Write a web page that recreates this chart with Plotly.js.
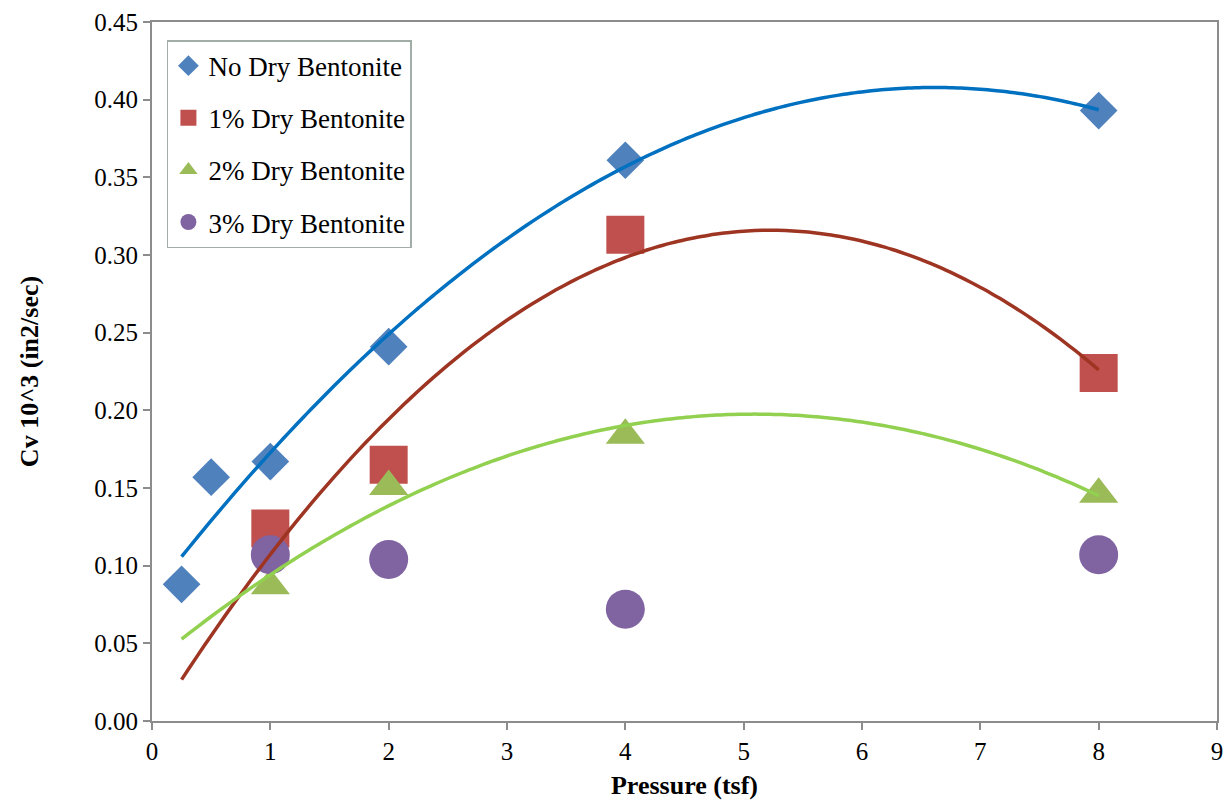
<!DOCTYPE html>
<html>
<head>
<meta charset="utf-8">
<script src="https://cdn.plot.ly/plotly-3.0.1.min.js"></script>
<style>
  html, body { margin: 0; padding: 0; background: #fff; }
  #chart { width: 1229px; height: 803px; }
</style>
</head>
<body>
<div id="chart"></div>
<script>
// Consolidation coefficient vs. applied pressure for four bentonite contents
const pressureNone = [0.25, 0.5, 1, 2, 4, 8];
const cvNone       = [0.088, 0.157, 0.167, 0.241, 0.361, 0.393];

const pressure1 = [1, 2, 4, 8];
const cv1       = [0.124, 0.165, 0.313, 0.224];

const pressure2 = [1, 2, 4, 8];
const cv2       = [0.087, 0.151, 0.184, 0.146];

const pressure3 = [1, 2, 4, 8];
const cv3       = [0.107, 0.104, 0.072, 0.107];

const seriesNames = ['No Dry Bentonite', '1% Dry Bentonite', '2% Dry Bentonite', '3% Dry Bentonite'];

// Span over which the quadratic trendlines are drawn
const trendStart = 0.25;
const trendEnd = 8;

// Least-squares quadratic fit y = a + b x + c x^2
function quadFit(xs, ys) {
  let S = [0, 0, 0, 0, 0], T = [0, 0, 0];
  for (let i = 0; i < xs.length; i++) {
    let p = 1;
    for (let k = 0; k < 5; k++) { S[k] += p; if (k < 3) T[k] += p * ys[i]; p *= xs[i]; }
  }
  const M = [[S[0], S[1], S[2], T[0]], [S[1], S[2], S[3], T[1]], [S[2], S[3], S[4], T[2]]];
  for (let c = 0; c < 3; c++) {
    for (let r = c + 1; r < 3; r++) {
      const f = M[r][c] / M[c][c];
      for (let k = c; k < 4; k++) M[r][k] -= f * M[c][k];
    }
  }
  const sol = [0, 0, 0];
  for (let r = 2; r >= 0; r--) {
    let s = M[r][3];
    for (let k = r + 1; k < 3; k++) s -= M[r][k] * sol[k];
    sol[r] = s / M[r][r];
  }
  return sol;
}

function trendTrace(xs, ys, color) {
  const [a, b, c] = quadFit(xs, ys);
  const tx = [], ty = [];
  const n = 120;
  for (let i = 0; i <= n; i++) {
    const x = trendStart + (trendEnd - trendStart) * i / n;
    tx.push(x); ty.push(a + b * x + c * x * x);
  }
  return { x: tx, y: ty, type: 'scatter', mode: 'lines', showlegend: false, hoverinfo: 'skip',
           line: { color: color, width: 3.5, shape: 'spline' } };
}

function markerTrace(xs, ys, name, symbol, size, color, group) {
  return { x: xs, y: ys, name: name, type: 'scatter', mode: 'markers', legendgroup: group,
           marker: { symbol: symbol, size: size, color: color, line: { width: 0 } } };
}

const data = [
  markerTrace(pressureNone, cvNone, seriesNames[0], 'diamond', 29, '#4F81BD', 'g0'),
  markerTrace(pressure1, cv1, seriesNames[1], 'square', 38, '#C0504D', 'g1'),
  markerTrace(pressure2, cv2, seriesNames[2], 'triangle-up', 34, '#9BBB59', 'g2'),
  markerTrace(pressure3, cv3, seriesNames[3], 'circle', 39, '#8064A2', 'g3'),
  trendTrace(pressureNone, cvNone, '#0070C0'),
  trendTrace(pressure1, cv1, '#9E3522'),
  trendTrace(pressure2, cv2, '#92D050')
];

const font = "'Liberation Serif', 'Times New Roman', serif";
const axisColor = '#8C8C8C';

const layout = {
  width: 1229, height: 803,
  margin: { l: 152, r: 12, t: 22, b: 82 },
  paper_bgcolor: '#ffffff', plot_bgcolor: '#ffffff',
  font: { family: font, size: 25, color: '#000000' },
  showlegend: true,
  legend: {
    x: 0.014, y: 0.974, xanchor: 'left', yanchor: 'top',
    bgcolor: '#ffffff', bordercolor: '#A3ADA8', borderwidth: 1.5,
    font: { family: font, size: 27, color: '#000000' },
    tracegroupgap: 14, itemwidth: 30
  },
  xaxis: {
    range: [0, 9], dtick: 1, tick0: 0,
    showgrid: false, zeroline: false,
    showline: true, linecolor: axisColor, linewidth: 2, mirror: true,
    ticks: 'outside', ticklen: 7, tickcolor: axisColor, tickwidth: 2,
    tickfont: { family: font, size: 25, color: '#000000' },
    title: { text: '<b>Pressure (tsf)</b>', font: { family: font, size: 26, color: '#000000' }, standoff: 12 }
  },
  yaxis: {
    range: [0, 0.45], dtick: 0.05, tick0: 0, tickformat: '.2f',
    showgrid: false, zeroline: false,
    showline: true, linecolor: axisColor, linewidth: 2, mirror: true,
    ticks: 'outside', ticklen: 7, tickcolor: axisColor, tickwidth: 2,
    tickfont: { family: font, size: 25, color: '#000000' },
    title: { text: '<b>Cv 10^3 (in2/sec)</b>', font: { family: font, size: 26, color: '#000000' }, standoff: 48 }
  }
};

Plotly.newPlot('chart', data, layout, { displayModeBar: false, staticPlot: true });
</script>
</body>
</html>
